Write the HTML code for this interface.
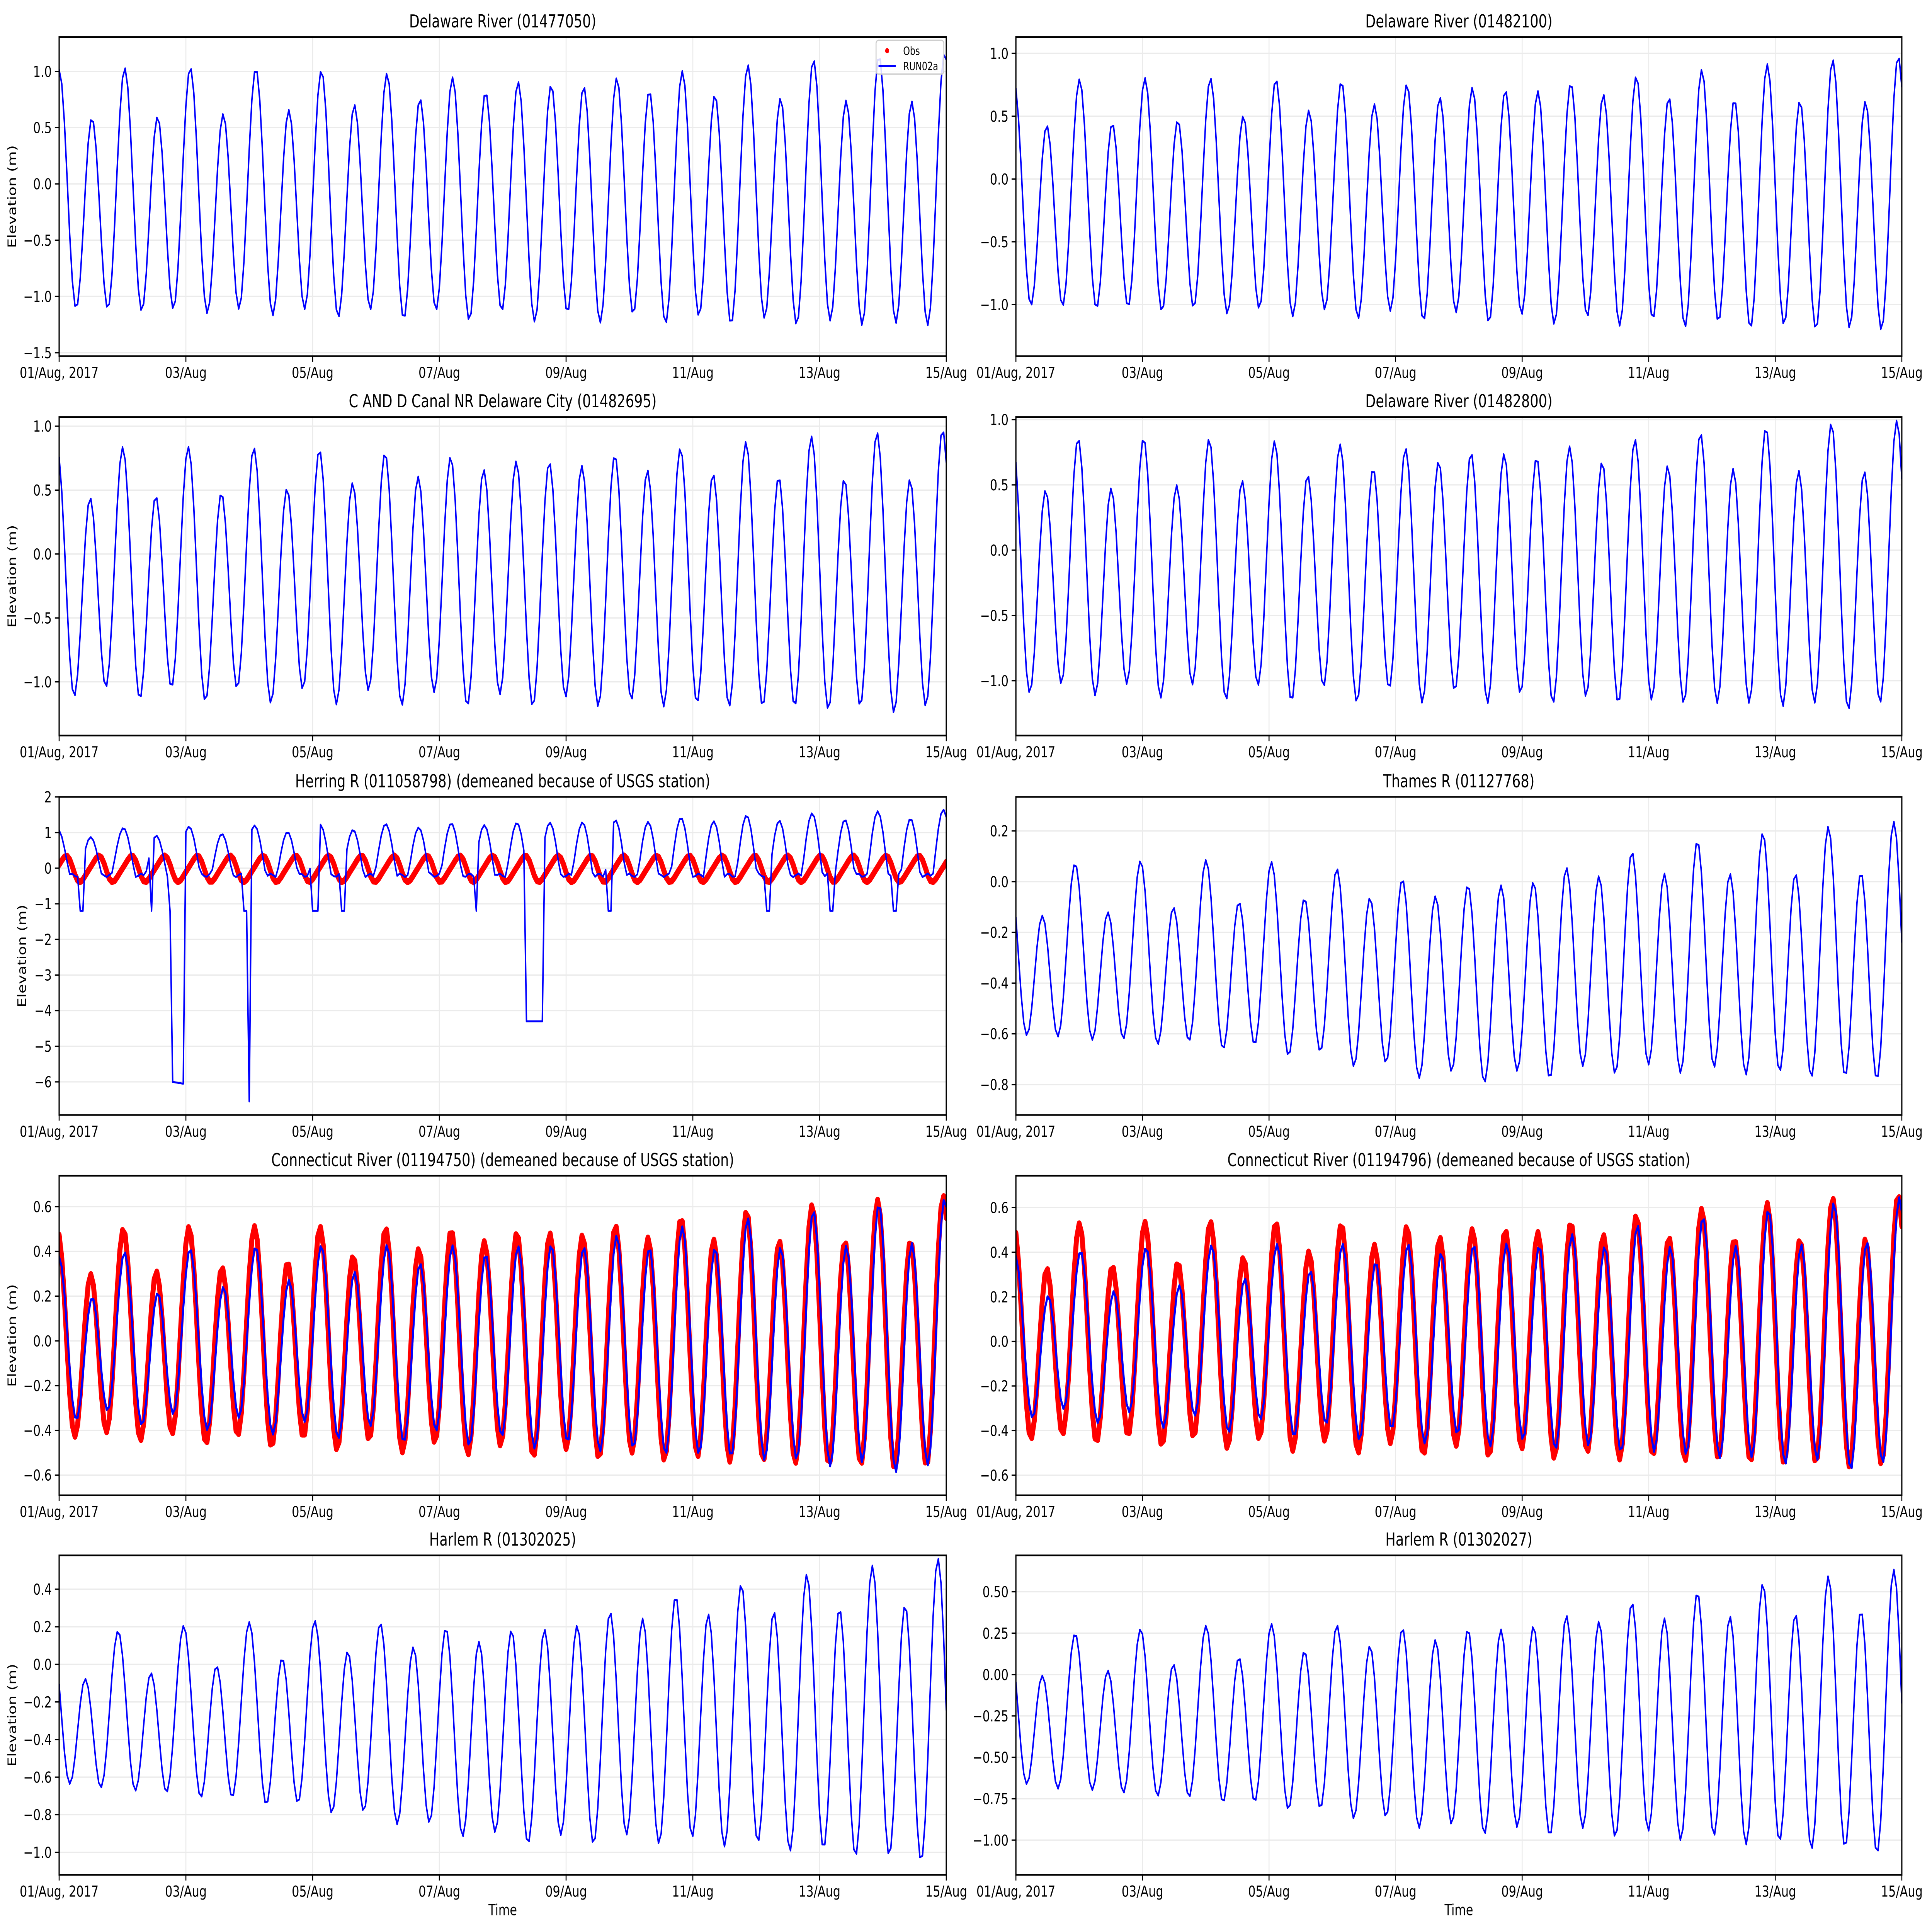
<!DOCTYPE html>
<html><head><meta charset="utf-8"><style>html,body{margin:0;padding:0;background:#fff;width:100%;height:100%;overflow:hidden}svg{display:block;width:100vw;height:100vh}</style></head>
<body>
<svg id="s" xmlns="http://www.w3.org/2000/svg" viewBox="0 0 1568 1199.06" preserveAspectRatio="none" font-family="DejaVu Sans, Liberation Sans, sans-serif">
<rect width="1568" height="1200" fill="#fff"/>
<g id="g"></g>
</svg>
<script>
(function(){
var NS="http://www.w3.org/2000/svg",G=document.getElementById('g');
function el(n,a,t){var e=document.createElementNS(NS,n);for(var k in a)e.setAttribute(k,a[k]);if(t!=null)e.textContent=t;G.appendChild(e);return e;}
var L=[48,768],R=[824.5,1543.5];
var rows=[[23,221],[258.8,456.5],[494.6,692],[729.7,928],[965.3,1163.6]];
var xl=["01/Aug, 2017","03/Aug","05/Aug","07/Aug","09/Aug","11/Aug","13/Aug","15/Aug"];
function D(t,sd,d){return d*(0.6*Math.cos(2*Math.PI*(t-sd)/0.9973)+0.4*Math.cos(2*Math.PI*(t-sd)/1.0758));}
function tide(p){return function(t){var A=p.A0+(p.A1-p.A0)*t/14;var m=p.m+(p.dip?p.dip*Math.exp(-Math.pow((t-7)/2,2)):0);
 return m+A*Math.cos(2*Math.PI*(t-p.s)/0.5175)+D(t,p.sd,p.d);};}
function herBlue(t){var A=0.72+0.04*t;var v=0.25+A*Math.cos(2*Math.PI*(t+0.02)/0.5175)+D(t,1.0,0.12);
 if(v<-0.2)v=-0.2+0.05*Math.sin(t*40);
 var w=function(a,b){return t>=a-0.021&&t<=b+0.021;};
 if(w(1.79,1.95))return -6.0-0.05*(t-1.79)/0.16;
 if(w(2.99,2.99))return -6.55;
 if(w(7.39,7.64))return -4.3;
 var dips=[[0.33,0.37],[1.46,1.46],[1.75,1.75],[2.91,2.96],[4.0,4.08],[4.47,4.52],[6.6,6.6],[8.67,8.72],[11.16,11.2],[12.17,12.2],[13.18,13.22]];
 for(var i=0;i<dips.length;i++)if(w(dips[i][0],dips[i][1]))return -1.2;
 return v;}
function herRed(t){var th=2*Math.PI*(t-0.09)/0.5175;return -0.02+0.35*Math.cos(th)+0.06*Math.sin(2*th);}
var P=[
{c:L,r:0,t:"Delaware River (01477050)",ymin:-1.53,ymax:1.305,ticks:[1,0.5,0,-0.5,-1,-1.5],fmt:1,yl:1,s:[{f:tide({s:0,sd:1.03,m:-0.15,A0:0.95,A1:1.1,d:0.22}),c:"#0000ff",w:1.2}],leg:1},
{c:R,r:0,t:"Delaware River (01482100)",ymin:-1.41,ymax:1.13,ticks:[1,0.5,0,-0.5,-1],fmt:1,s:[{f:tide({s:-0.03,sd:1.0,m:-0.2,A0:0.8,A1:1.0,d:0.18}),c:"#0000ff",w:1.2}]},
{c:L,r:1,t:"C AND D Canal NR Delaware City (01482695)",ymin:-1.42,ymax:1.072,ticks:[1,0.5,0,-0.5,-1],fmt:1,yl:1,s:[{f:tide({s:-0.03,sd:0.97,m:-0.22,A0:0.85,A1:1.0,d:0.2}),c:"#0000ff",w:1.2}]},
{c:R,r:1,t:"Delaware River (01482800)",ymin:-1.42,ymax:1.02,ticks:[1,0.5,0,-0.5,-1],fmt:1,s:[{f:tide({s:-0.05,sd:0.95,m:-0.2,A0:0.85,A1:1.0,d:0.2}),c:"#0000ff",w:1.2}]},
{c:L,r:2,t:"Herring R (011058798) (demeaned because of USGS station)",ymin:-6.93,ymax:2,ticks:[2,1,0,-1,-2,-3,-4,-5,-6],fmt:0,yl:1,ylx:21,s:[{f:herRed,c:"#ff0000",w:4},{f:herBlue,c:"#0000ff",w:1.2}]},
{c:R,r:2,t:"Thames R (01127768)",ymin:-0.92,ymax:0.334,ticks:[0.2,0,-0.2,-0.4,-0.6,-0.8],fmt:1,s:[{f:tide({s:-0.1,sd:0.93,m:-0.32,A0:0.28,A1:0.46,d:0.1,dip:-0.08}),c:"#0000ff",w:1.2}]},
{c:L,r:3,t:"Connecticut River (01194750) (demeaned because of USGS station)",ymin:-0.69,ymax:0.738,ticks:[0.6,0.4,0.2,0,-0.2,-0.4,-0.6],fmt:1,yl:1,s:[{f:tide({s:-0.02,sd:0.99,m:-0.01,A0:0.4,A1:0.56,d:0.1}),c:"#ff0000",w:4},{f:tide({s:0.0,sd:0.99,m:-0.02,A0:0.3,A1:0.56,d:0.1}),c:"#0000ff",w:1.6}]},
{c:R,r:3,t:"Connecticut River (01194796) (demeaned because of USGS station)",ymin:-0.69,ymax:0.743,ticks:[0.6,0.4,0.2,0,-0.2,-0.4,-0.6],fmt:1,s:[{f:tide({s:-0.03,sd:0.98,m:0.0,A0:0.42,A1:0.56,d:0.1}),c:"#ff0000",w:4},{f:tide({s:-0.01,sd:0.98,m:-0.01,A0:0.3,A1:0.56,d:0.1}),c:"#0000ff",w:1.6}]},
{c:L,r:4,t:"Harlem R (01302025)",ymin:-1.12,ymax:0.58,ticks:[0.4,0.2,0,-0.2,-0.4,-0.6,-0.8,-1.0],fmt:1,yl:1,xl:1,s:[{f:tide({s:-0.105,sd:0.93,m:-0.3,A0:0.33,A1:0.75,d:0.12,dip:-0.08}),c:"#0000ff",w:1.2}]},
{c:R,r:4,t:"Harlem R (01302027)",ymin:-1.21,ymax:0.72,ticks:[0.5,0.25,0,-0.25,-0.5,-0.75,-1.0],fmt:2,xl:1,s:[{f:tide({s:-0.1,sd:0.94,m:-0.28,A0:0.38,A1:0.8,d:0.12,dip:-0.06}),c:"#0000ff",w:1.2}]}
];
P.forEach(function(p){
 var x0=p.c[0],x1=p.c[1],y0=rows[p.r][0],y1=rows[p.r][1];
 var X=function(t){return x0+(x1-x0)*t/14;},Y=function(v){return y1-(v-p.ymin)/(p.ymax-p.ymin)*(y1-y0);};
 for(var i=0;i<=7;i++){var gx=X(2*i);el('line',{x1:gx,x2:gx,y1:y0,y2:y1,stroke:'#ebebeb','stroke-width':0.8});}
 p.ticks.forEach(function(v){var gy=Y(v);el('line',{x1:x0,x2:x1,y1:gy,y2:gy,stroke:'#ebebeb','stroke-width':0.8});});
 var cp='c'+p.r+(p.c===L?'l':'r');
 var cl=el('clipPath',{id:cp});var rc=document.createElementNS(NS,'rect');rc.setAttribute('x',x0);rc.setAttribute('y',y0);rc.setAttribute('width',x1-x0);rc.setAttribute('height',y1-y0);cl.appendChild(rc);
 p.s.forEach(function(s){var pts=[];for(var h=0;h<=336;h++){var t=h/24;pts.push(X(t).toFixed(2)+','+Y(s.f(t)).toFixed(2));}
  el('polyline',{points:pts.join(' '),fill:'none',stroke:s.c,'stroke-width':s.w,'stroke-linejoin':'round','stroke-linecap':'round','clip-path':'url(#'+cp+')'});});
 el('rect',{x:x0,y:y0,width:x1-x0,height:y1-y0,fill:'none',stroke:'#000','stroke-width':1});
 p.ticks.forEach(function(v){var gy=Y(v);el('line',{x1:x0-3.5,x2:x0,y1:gy,y2:gy,stroke:'#000','stroke-width':0.8});
  var s=p.fmt==0?String(Math.abs(v)):Math.abs(v).toFixed(p.fmt);if(v<0)s='\u2212'+s;
  el('text',{x:x0-6,y:gy+3.4,'text-anchor':'end','font-size':9.5,fill:'#000'},s);});
 for(var i=0;i<=7;i++){var gx=X(2*i);el('line',{x1:gx,x2:gx,y1:y1,y2:y1+3.5,stroke:'#000','stroke-width':0.8});
  el('text',{x:gx,y:y1+13.5,'text-anchor':'middle','font-size':9.5,fill:'#000'},xl[i]);}
 el('text',{x:(x0+x1)/2,y:y0-6,'text-anchor':'middle','font-size':11,fill:'#000'},p.t);
 if(p.yl){var lx=p.ylx||13,ly=(y0+y1)/2;el('text',{x:lx,y:ly,'text-anchor':'middle','font-size':9.5,transform:'rotate(-90 '+lx+' '+ly+')',fill:'#000'},'Elevation (m)');}
 if(p.xl){el('text',{x:(x0+x1)/2,y:y1+25,'text-anchor':'middle','font-size':9.5,fill:'#000'},'Time');}
 if(p.leg){el('rect',{x:711,y:25,width:55,height:21,rx:2,fill:'#fff',stroke:'#cccccc','stroke-width':0.8,'fill-opacity':0.85});
  el('circle',{cx:720,cy:31.5,r:1.6,fill:'#ff0000'});
  el('text',{x:733,y:34,'font-size':7,fill:'#000'},'Obs');
  el('line',{x1:713,x2:727,y1:41,y2:41,stroke:'#0000ff','stroke-width':1.2});
  el('text',{x:733,y:43.5,'font-size':7,fill:'#000'},'RUN02a');}
});
})();
</script>
</body></html>
